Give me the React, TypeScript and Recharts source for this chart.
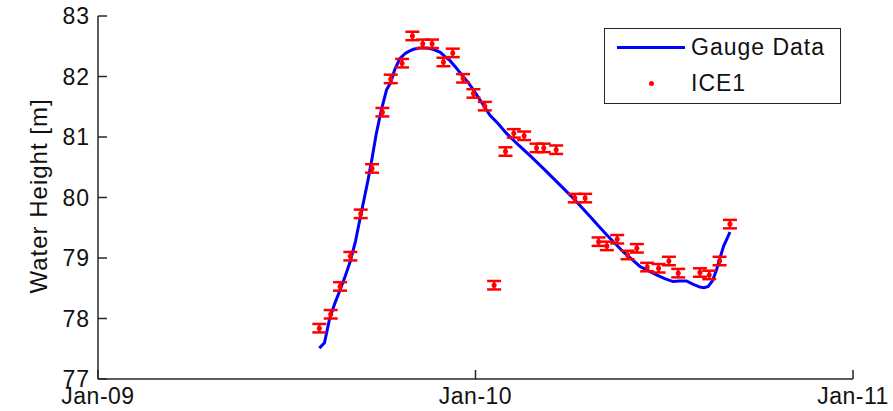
import { ComposedChart, Line, Scatter, ErrorBar, XAxis, YAxis, Label } from 'recharts';

// days since 1 Jan 2009
const gaugeDays = [214, 219, 224, 229, 234, 239, 244, 249, 253, 257, 261, 265, 269, 274, 279, 283, 287, 292, 297, 301, 305, 311, 318, 324, 331, 336, 340, 346, 352, 358, 363, 371, 379, 387, 395, 407, 419, 430, 440, 450, 460, 468, 476, 484, 492, 500, 508, 516, 524, 532, 540, 548, 556, 562, 569, 575, 582, 586, 590, 594, 598, 601, 605, 608, 611];
const gaugeValues = [77.51, 77.6, 78.0, 78.25, 78.47, 78.7, 78.95, 79.28, 79.62, 79.95, 80.28, 80.65, 81.05, 81.45, 81.78, 81.9, 82.12, 82.3, 82.38, 82.42, 82.45, 82.47, 82.47, 82.45, 82.4, 82.32, 82.27, 82.15, 82.02, 81.9, 81.78, 81.57, 81.36, 81.22, 81.06, 80.86, 80.67, 80.49, 80.32, 80.15, 79.98, 79.83, 79.68, 79.53, 79.38, 79.24, 79.1, 78.98, 78.86, 78.79, 78.72, 78.66, 78.61, 78.62, 78.62, 78.57, 78.52, 78.51, 78.53, 78.62, 78.8, 78.98, 79.2, 79.31, 79.43];

const iceDays = [214, 225, 234, 244, 254, 265, 275, 283, 294, 304, 314, 323, 334, 343, 353, 363, 374, 383, 394, 402, 412, 424, 431, 443, 461, 471, 484, 492, 502, 512, 521, 531, 542, 552, 561, 582, 591, 601, 611];
const iceValues = [77.84, 78.07, 78.53, 79.03, 79.73, 80.48, 81.41, 81.96, 82.22, 82.67, 82.54, 82.54, 82.24, 82.39, 81.97, 81.72, 81.51, 78.55, 80.76, 81.06, 81.02, 80.82, 80.82, 80.79, 79.99, 79.99, 79.27, 79.2, 79.31, 79.05, 79.16, 78.85, 78.83, 78.95, 78.75, 78.76, 78.72, 78.95, 79.56];
const iceErr = 0.07;

const xTicks = [0, 365, 730];
const xTickLabels = ['Jan-09', 'Jan-10', 'Jan-11'];
const yTicks = [77, 78, 79, 80, 81, 82, 83];

const gauge = gaugeDays.map((d, i) => ({ d, v: gaugeValues[i] }));
const ice = iceDays.map((d, i) => ({ d, v: iceValues[i], err: iceErr }));

const FONT = '"Liberation Sans", Arial, sans-serif';
const AXIS = '#262626';
const yTickStyle = { fontSize: 23, fill: '#111', fontFamily: FONT, letterSpacing: 1 };
const xTickStyle = { fontSize: 23, fill: '#111', fontFamily: FONT, letterSpacing: 0.5 };

const Dot = (props: any) => <circle cx={props.cx} cy={props.cy} r={2.5} fill="#ff0000" />;

export default function App() {
  return (
    <div style={{ position: 'fixed', left: 0, top: 0, width: 893, height: 411, background: '#fff' }}>
      <ComposedChart width={893} height={411} data={gauge} margin={{ top: 16, right: 40, bottom: 0, left: 0 }}>
        <XAxis
          xAxisId="b"
          dataKey="d"
          type="number"
          domain={[0, 730]}
          ticks={xTicks}
          tickFormatter={(t: number) => xTickLabels[xTicks.indexOf(t)]}
          height={32}
          tickSize={-9}
          tickMargin={18}
          stroke={AXIS}
          strokeWidth={1.5}
          tick={xTickStyle}
          allowDataOverflow
        />
        <XAxis
          xAxisId="t"
          orientation="top"
          dataKey="d"
          type="number"
          domain={[0, 730]}
          ticks={xTicks}
          tickFormatter={() => ''}
          height={0}
          tickSize={-9}
          stroke={AXIS}
          strokeWidth={1.5}
        />
        <YAxis
          yAxisId="l"
          type="number"
          domain={[77, 83]}
          ticks={yTicks}
          width={98}
          tickSize={-9}
          tickMargin={17}
          stroke={AXIS}
          strokeWidth={1.5}
          tick={yTickStyle}
        >
          <Label
            content={() => (
              <text
                transform="translate(47,196) rotate(-90)"
                textAnchor="middle"
                fontSize={24}
                fontFamily={FONT}
                letterSpacing={1}
                fill="#111"
              >
                Water Height [m]
              </text>
            )}
          />
        </YAxis>
        <YAxis
          yAxisId="r"
          orientation="right"
          type="number"
          domain={[77, 83]}
          ticks={yTicks}
          width={0}
          tickSize={-9}
          tickFormatter={() => ''}
          stroke={AXIS}
          strokeWidth={1.5}
        />
        <Line
          xAxisId="b"
          yAxisId="l"
          data={gauge}
          dataKey="v"
          type="linear"
          stroke="#0000ff"
          strokeWidth={3}
          dot={false}
          isAnimationActive={false}
        />
        <Scatter xAxisId="b" yAxisId="l" data={ice} dataKey="v" shape={Dot} isAnimationActive={false}>
          <ErrorBar dataKey="err" direction="y" width={7} stroke="#ff0000" strokeWidth={2.5} isAnimationActive={false} />
        </Scatter>
      </ComposedChart>
      <div
        style={{
          position: 'absolute',
          left: 604,
          top: 28,
          width: 237,
          height: 76,
          boxSizing: 'border-box',
          border: `1.5px solid ${AXIS}`,
          background: '#fff',
          fontFamily: FONT,
          fontSize: 23,
          letterSpacing: 1,
          color: '#111',
        }}
      >
        <svg width={235} height={73} style={{ position: 'absolute', left: 0, top: 0 }}>
          <line x1={12} x2={80} y1={18.5} y2={18.5} stroke="#0000ff" strokeWidth={3} />
          <circle cx={46.5} cy={54.5} r={2.5} fill="#ff0000" />
        </svg>
        <div style={{ position: 'absolute', left: 86, top: 4, lineHeight: '28px', whiteSpace: 'nowrap' }}>Gauge Data</div>
        <div style={{ position: 'absolute', left: 86, top: 40, lineHeight: '28px', whiteSpace: 'nowrap' }}>ICE1</div>
      </div>
    </div>
  );
}
